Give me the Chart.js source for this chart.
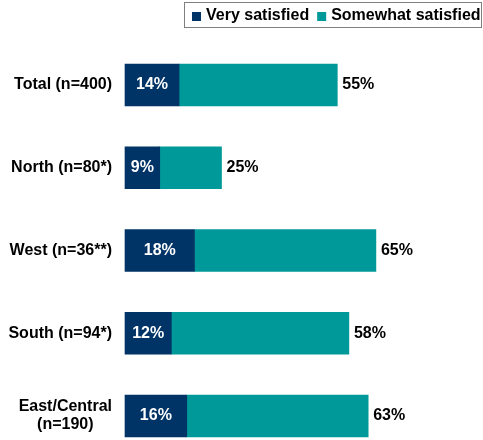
<!DOCTYPE html>
<html>
<head>
<meta charset="utf-8">
<script src="https://cdn.jsdelivr.net/npm/chart.js@4/dist/chart.umd.min.js"></script>
<style>
    body { margin: 0; background: #fff; }
    #Chart { display: block; }
</style>
</head>
<body>
<canvas id="Chart" width="483" height="440"></canvas>
<script>
const Regions = ['Total (n=400)', 'North (n=80*)', 'West (n=36**)', 'South (n=94*)', ['East/Central', '(n=190)']];
const VerySatisfied = [14, 9, 18, 12, 16];
const SomewhatSatisfied = [41, 16, 47, 46, 47];
const SeriesNames = ['Very satisfied', 'Somewhat satisfied'];
const SeriesColors = ['#003366', '#009999'];

const FONT = 'bold 16px "Liberation Sans", Arial, Helvetica, sans-serif';

// Boxed legend in the top right corner
const BoxLegend = {
    id: 'boxLegend',
    afterDraw(chart) {
        var ctx = chart.ctx;
        ctx.save();
        ctx.strokeStyle = '#7f7f7f';
        ctx.lineWidth = 1;
        ctx.strokeRect(184.5, 2.5, 297, 25);
        ctx.font = FONT;
        ctx.textBaseline = 'middle';
        ctx.textAlign = 'left';
        var x = 192;
        chart.data.datasets.forEach((ds) => {
            ctx.fillStyle = ds.backgroundColor;
            ctx.fillRect(x, 12, 9, 9);
            ctx.fillStyle = '#000';
            ctx.fillText(ds.label, x + 14, 16);
            x += 14 + ctx.measureText(ds.label).width + 8;
        });
        ctx.restore();
    }
};

// Category names to the left of the bars, right aligned; wrapped names centered
const RegionLabels = {
    id: 'regionLabels',
    afterDraw(chart) {
        var ctx = chart.ctx;
        var yScale = chart.scales.y;
        var right = 112;
        ctx.save();
        ctx.font = FONT;
        ctx.fillStyle = '#000';
        ctx.textBaseline = 'middle';
        Regions.forEach((label, i) => {
            var y = yScale.getPixelForValue(i);
            var lines = Array.isArray(label) ? label : [label];
            var widest = Math.max(...lines.map((l) => ctx.measureText(l).width));
            var lineHeight = 18;
            var top = y - (lines.length - 1) * lineHeight / 2;
            ctx.textAlign = 'center';
            lines.forEach((l, j) => {
                ctx.fillText(l, right - widest / 2, top + j * lineHeight);
            });
        });
        ctx.restore();
    }
};

// Percent inside the dark segment, stack total after the bar
const ValueLabels = {
    id: 'valueLabels',
    afterDatasetsDraw(chart) {
        var ctx = chart.ctx;
        var inner = chart.getDatasetMeta(0).data;
        var outer = chart.getDatasetMeta(1).data;
        ctx.save();
        ctx.font = FONT;
        ctx.textBaseline = 'middle';
        inner.forEach((bar, i) => {
            ctx.fillStyle = '#fff';
            ctx.textAlign = 'center';
            ctx.fillText(VerySatisfied[i] + '%', (bar.x + bar.base) / 2, bar.y);
            var end = outer[i];
            ctx.fillStyle = '#000';
            ctx.textAlign = 'left';
            ctx.fillText((VerySatisfied[i] + SomewhatSatisfied[i]) + '%', end.x + 5, end.y);
        });
        ctx.restore();
    }
};

var ctx = document.getElementById('Chart').getContext('2d');
var chart = new Chart(ctx, {
    type: 'bar',
    data: {
        labels: Regions,
        datasets: [{
            label: SeriesNames[0],
            data: VerySatisfied,
            backgroundColor: SeriesColors[0],
            barThickness: 42,
            clip: false
        }, {
            label: SeriesNames[1],
            data: SomewhatSatisfied,
            backgroundColor: SeriesColors[1],
            barThickness: 42,
            clip: false
        }]
    },
    options: {
        indexAxis: 'y',
        responsive: false,
        animation: false,
        layout: {
            padding: { top: 85, bottom: 24, left: 125, right: 10.6 }
        },
        scales: {
            x: { stacked: true, min: 0, max: 90, display: false },
            y: { stacked: true, offset: false, display: false }
        },
        plugins: {
            legend: { display: false },
            tooltip: { enabled: false }
        }
    },
    plugins: [BoxLegend, RegionLabels, ValueLabels]
});
</script>
</body>
</html>
